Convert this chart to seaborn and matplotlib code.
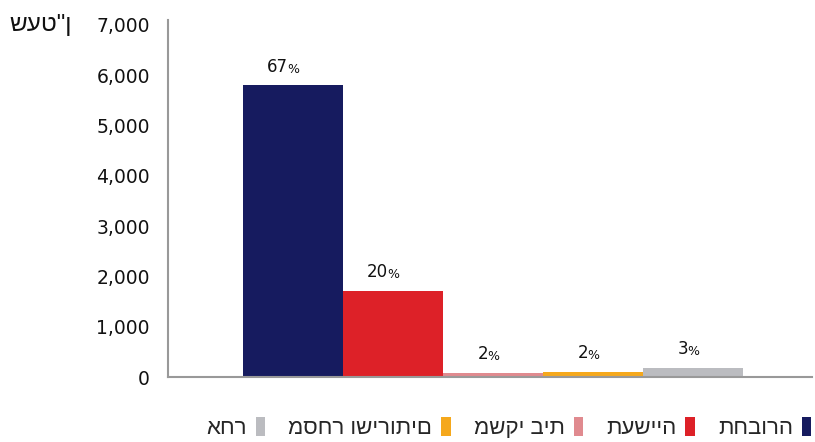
import matplotlib
matplotlib.use("Agg")
import matplotlib.pyplot as plt
from matplotlib.patches import Patch
from matplotlib.ticker import FuncFormatter
import seaborn as sns

sns.set_style("white")
plt.rcParams['font.family'] = ['DejaVu Sans']

# data (bars left to right)
sectors = ["תחבורה", "תעשייה", "משקי בית", "מסחר ושירותים", "אחר"]
values = [5800, 1710, 85, 105, 180]
shares = [67, 20, 2, 2, 3]
colors = ["#161b5f", "#dd2128", "#e08a8f", "#f5a81c", "#bbbcc0"]
unit_label = 'שעט"ן'
y_ticks = [0, 1000, 2000, 3000, 4000, 5000, 6000, 7000]

heb_font = "Liberation Sans"

fig = plt.figure(figsize=(8.15, 4.42), dpi=100)
ax = fig.add_axes([0.206, 0.147, 0.79, 0.808])

sns.barplot(x=sectors, y=values, hue=sectors, palette=colors, width=1.0,
            saturation=1, legend=False, linewidth=0, ax=ax)

ax.set_xlim(-1.25, 5.19)
ax.set_ylim(0, 7100)
ax.set_yticks(y_ticks)
ax.yaxis.set_major_formatter(FuncFormatter(lambda v, p: f"{int(v):,}"))
ax.set_xticks([])
ax.set_xlabel("")
ax.set_ylabel("")
ax.tick_params(axis="y", length=0, pad=13, labelsize=13.5, labelcolor="#111111")

for side in ["top", "right"]:
    ax.spines[side].set_visible(False)
for side in ["left", "bottom"]:
    ax.spines[side].set_color("#999999")
    ax.spines[side].set_linewidth(1.5)

# percentage labels, small % sign
for i, (v, s) in enumerate(zip(values, shares)):
    ax.annotate(str(s), xy=(i, v), xytext=(-3.5, 7), textcoords="offset points",
                ha="right", va="bottom", fontsize=12, color="#111111")
    ax.annotate("%", xy=(i, v), xytext=(-4, 7), textcoords="offset points",
                ha="left", va="bottom", fontsize=9, color="#111111")

fig.text(0.012, 0.93, unit_label, ha="left", va="baseline", fontsize=17.5,
         family=heb_font, color="#111111")

# legend, right-to-left order with square after text
handles = [Patch(facecolor=c, edgecolor="none") for c in colors][::-1]
labels = sectors[::-1]
fig.legend(handles, labels, loc="lower right", bbox_to_anchor=(1.02, -0.038),
           ncol=5, frameon=False, markerfirst=False,
           prop={"family": heb_font, "size": 16},
           handlelength=0.42, handleheight=0.95, handletextpad=0.4,
           columnspacing=1.05)

fig.savefig("out.png", dpi=100, facecolor="white")
